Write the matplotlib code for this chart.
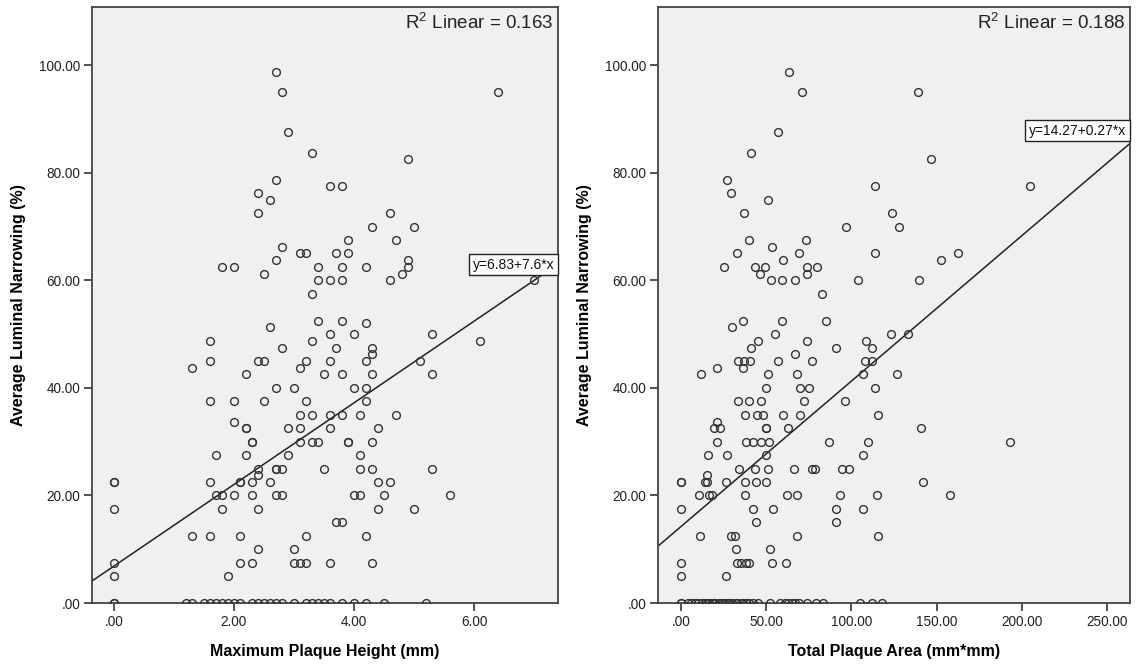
import matplotlib
matplotlib.use("Agg")
import matplotlib.pyplot as plt
from matplotlib.ticker import FuncFormatter, MultipleLocator
import matplotlib.transforms as mtransforms

plt.rcParams['font.family'] = ['Liberation Sans', 'DejaVu Sans']
plt.rcParams['mathtext.fontset'] = 'custom'
plt.rcParams['mathtext.rm'] = 'Liberation Sans'

# ---- data ----
# left panel: maximum plaque height (mm) vs average luminal narrowing (%)
height_mm = [
    0, 0, 0, 0, 0, 0, 0,
    1.2, 1.3, 1.5, 1.6, 1.7, 1.8, 1.9, 2.0, 2.1, 2.3, 2.4, 2.5, 2.6,
    2.7, 2.8, 3.0, 3.2, 3.3, 3.4, 3.5, 3.6, 3.8, 4.0, 4.2, 4.5, 5.2,
    1.3, 1.3,
    1.6, 1.6, 1.6, 1.6, 1.6,
    1.7, 1.7,
    1.8, 1.8, 1.8,
    1.9,
    2.0, 2.0, 2.0, 2.0,
    2.1, 2.1, 2.1, 2.1,
    2.2, 2.2, 2.2, 2.2,
    2.3, 2.3, 2.3, 2.3, 2.3,
    2.4, 2.4, 2.4, 2.4, 2.4, 2.4, 2.4,
    2.5, 2.5, 2.5,
    2.6, 2.6, 2.6,
    2.7, 2.7, 2.7, 2.7, 2.7, 2.7, 2.7,
    2.8, 2.8, 2.8, 2.8, 2.8,
    2.9, 2.9, 2.9,
    3.0, 3.0, 3.0,
    3.1, 3.1, 3.1, 3.1, 3.1, 3.1,
    3.2, 3.2, 3.2, 3.2, 3.2,
    3.3, 3.3, 3.3, 3.3, 3.3,
    3.4, 3.4, 3.4, 3.4,
    3.5, 3.5,
    3.6, 3.6, 3.6, 3.6, 3.6, 3.6, 3.6,
    3.7, 3.7, 3.7,
    3.8, 3.8, 3.8, 3.8, 3.8, 3.8, 3.8,
    3.9, 3.9, 3.9, 3.9,
    4.0, 4.0, 4.0,
    4.1, 4.1, 4.1, 4.1,
    4.2, 4.2, 4.2, 4.2, 4.2, 4.2,
    4.3, 4.3, 4.3, 4.3, 4.3, 4.3, 4.3,
    4.4, 4.4, 4.4,
    4.5,
    4.6, 4.6, 4.6,
    4.7, 4.7,
    4.8,
    4.9, 4.9, 4.9,
    5.0, 5.0,
    5.1,
    5.3, 5.3, 5.3,
    5.6, 6.1, 6.4, 7.0,
]
narrowing_left = [
    0, 0, 5, 7.5, 17.5, 22.5, 22.5,
    0, 0, 0, 0, 0, 0, 0, 0, 0, 0, 0, 0, 0,
    0, 0, 0, 0, 0, 0, 0, 0, 0, 0, 0, 0, 0,
    12.5, 43.75,
    12.5, 22.5, 37.5, 45, 48.75,
    20, 27.5,
    17.5, 20, 62.5,
    5,
    20, 33.75, 37.5, 62.5,
    7.5, 12.5, 22.5, 22.5,
    27.5, 32.5, 32.5, 42.5,
    7.5, 20, 22.5, 30, 30,
    10, 17.5, 23.75, 25, 45, 72.5, 76.25,
    37.5, 45, 61.25,
    22.5, 51.25, 75,
    20, 25, 25, 40, 63.75, 78.75, 98.75,
    20, 25, 47.5, 66.25, 95,
    27.5, 32.5, 87.5,
    7.5, 10, 40,
    7.5, 30, 32.5, 35, 43.75, 65,
    7.5, 12.5, 37.5, 45, 65,
    30, 35, 48.75, 57.5, 83.75,
    30, 52.5, 60, 62.5,
    25, 42.5,
    7.5, 32.5, 35, 45, 50, 60, 77.5,
    15, 47.5, 65,
    15, 35, 42.5, 52.5, 60, 62.5, 77.5,
    30, 30, 65, 67.5,
    20, 40, 50,
    20, 25, 27.5, 35,
    12.5, 37.5, 40, 45, 52, 62.5,
    7.5, 25, 30, 42.5, 46.25, 47.5, 70,
    17.5, 22.5, 32.5,
    20,
    22.5, 60, 72.5,
    35, 67.5,
    61.25,
    62.5, 63.75, 82.5,
    17.5, 70,
    45,
    25, 42.5, 50,
    20, 48.75, 95, 60,
]

# right panel: total plaque area (mm*mm) vs average luminal narrowing (%)
area_mm2 = [
    0, 0, 4, 6, 8, 10, 12, 14, 15, 16, 18, 19, 20, 22, 24, 25, 27, 28, 30, 32,
    33, 35, 36, 38, 40, 42, 45, 52, 58, 61, 63, 65, 67, 69, 74, 79, 83, 105, 112, 118,
    0, 0, 0, 0, 0,
    10.2, 10.8, 11.8,
    14.1, 15.3, 15.3, 15.9, 16.3, 18.2,
    19.2, 21.2, 21.2, 21.2, 22.9,
    24.9, 26.1, 26.1, 27.0, 27.1, 29.0, 29.0, 30.0, 31.4, 31.9,
    32.9, 32.9, 33.1, 33.3, 33.9, 35.3, 36.1, 36.3, 36.9, 37.0, 37.2, 37.2, 37.2,
    37.8, 38.2, 39.8, 39.8, 40.0, 40.2, 41.0, 41.2,
    42.1, 42.1, 43.1, 43.1, 44.1, 44.1, 44.5, 45.1, 46.1, 46.9, 47.0, 48.1, 49.0,
    50, 50, 50, 50, 50, 51.0, 51.0, 51.0, 51.4, 51.9, 52.9, 53.1, 53.1, 53.9, 54.9, 56.9, 57.0,
    59.0, 59.0, 59.8, 60.0, 61.8, 62.1, 62.9, 63.1, 66.1, 66.7, 66.8, 68.0, 68.0, 68.2, 69.0,
    70.0, 70.0, 71.0, 71.9, 73.1, 73.9, 73.9, 73.9, 75.1, 76.8, 76.8, 78.8, 80.0, 82.9, 84.9, 86.8,
    91.2, 91.2, 91.2, 93.1, 94.5, 96.1, 97.0, 98.4,
    103.9, 106.8, 106.8, 106.8, 108.0, 108.8, 110.0, 112.2, 112.2, 114.1, 114.1, 114.1, 115.1, 115.9, 115.9,
    123.1, 123.9, 127.0, 128.2, 133.1, 139.2, 140.0, 141.0, 142.0, 147.0, 152.9, 157.8, 162.9, 193.1, 205.1,
]
narrowing_right = [
    0, 0, 0, 0, 0, 0, 0, 0, 0, 0, 0, 0, 0, 0, 0, 0, 0, 0, 0, 0,
    0, 0, 0, 0, 0, 0, 0, 0, 0, 0, 0, 0, 0, 0, 0, 0, 0, 0, 0, 0,
    5, 7.5, 17.5, 22.5, 22.5,
    20, 12.5, 42.5,
    22.5, 22.5, 23.75, 27.5, 20, 20,
    32.5, 30, 33.75, 43.75, 32.5,
    62.5, 5, 22.5, 78.75, 27.5, 12.5, 76.25, 51.25, 12.5, 10,
    7.5, 65, 37.5, 45, 25, 7.5, 52.5, 43.75, 45, 72.5, 35, 22.5, 20,
    30, 7.5, 7.5, 67.5, 37.5, 45, 83.75, 47.5,
    30, 17.5, 25, 62.5, 22.5, 15, 35, 48.75, 61.25, 30, 37.5, 35, 62.5,
    40, 32.5, 32.5, 27.5, 22.5, 42.5, 25, 75, 30, 10, 60, 66.25, 7.5, 17.5, 50, 45, 87.5,
    60, 52.5, 35, 63.75, 7.5, 20, 32.5, 98.75, 25, 46.25, 60, 42.5, 12.5, 20, 65,
    40, 35, 95, 37.5, 67.5, 48.75, 62.5, 61.25, 40, 45, 25, 25, 62.5, 57.5, 52.5, 30,
    47.5, 17.5, 15, 20, 25, 37.5, 70, 25,
    60, 42.5, 27.5, 17.5, 45, 48.75, 30, 47.5, 45, 40, 77.5, 65, 20, 35, 12.5,
    50, 72.5, 42.5, 70, 50, 95, 60, 32.5, 22.5, 82.5, 63.75, 20, 65, 30, 77.5,
]

# fit lines as printed on the chart
fit_left = (6.83, 7.6)
fit_right = (14.27, 0.27)
r2_left = 0.163
r2_right = 0.188

assert len(height_mm) == len(narrowing_left)
assert len(area_mm2) == len(narrowing_right)


def spss_fmt(v, pos):
    s = f"{v:.2f}"
    return s[1:] if s.startswith("0") else s


fig = plt.figure(figsize=(11.36, 6.65), dpi=100)
ax1 = fig.add_axes([0.081, 0.0932, 0.410, 0.896])
ax2 = fig.add_axes([0.5792, 0.0932, 0.4155, 0.896])

panels = [
    (ax1, height_mm, narrowing_left, fit_left, r2_left, (-0.36, 7.39), 2,
     'Maximum Plaque Height (mm)', 'y=6.83+7.6*x', 62.9),
    (ax2, area_mm2, narrowing_right, fit_right, r2_right, (-13.7, 263.7), 50,
     'Total Plaque Area (mm*mm)', 'y=14.27+0.27*x', 87.8),
]

for ax, xs, ys, fit, r2, xlim, xstep, xlabel, eq, eq_y in panels:
    ax.set_facecolor('#f0f0f0')
    ax.plot(xs, ys, 'o', ms=5.6, mfc='none', mec='#333333', mew=1.0, zorder=3)
    ax.axline((0, fit[0]), slope=fit[1], color='#222222', lw=1.1, zorder=2)
    ax.set_xlim(*xlim)
    ax.set_ylim(0, 110.8)
    ax.xaxis.set_major_locator(MultipleLocator(xstep))
    ax.yaxis.set_major_formatter(FuncFormatter(spss_fmt))
    ax.xaxis.set_major_formatter(FuncFormatter(spss_fmt))
    ax.set_yticks([0, 20, 40, 60, 80, 100])
    ax.tick_params(direction='out', length=6, width=1.2, color='#333333', pad=2.5,
                   labelsize=9.8, labelcolor='#222222')
    for sp in ax.spines.values():
        sp.set_color('#444444')
        sp.set_linewidth(1.3)
    ax.set_xlabel(xlabel, fontsize=11.5, fontweight='bold', labelpad=11)
    ax.set_ylabel('Average Luminal Narrowing (%)', fontsize=11.5,
                  fontweight='bold', labelpad=9)
    ax.text(0.99, 0.992, r'R$^{\mathrm{2}}$ Linear = %.3f' % r2, transform=ax.transAxes,
            ha='right', va='top', fontsize=13.5, color='#222222')
    trans = mtransforms.blended_transform_factory(ax.transAxes, ax.transData)
    ax.text(0.992, eq_y, eq, transform=trans, ha='right', va='center',
            fontsize=10, color='#111111', zorder=5,
            bbox=dict(boxstyle='square,pad=0.25', fc='white', ec='#222222', lw=1.0))

fig.savefig('out.png', dpi=100)
